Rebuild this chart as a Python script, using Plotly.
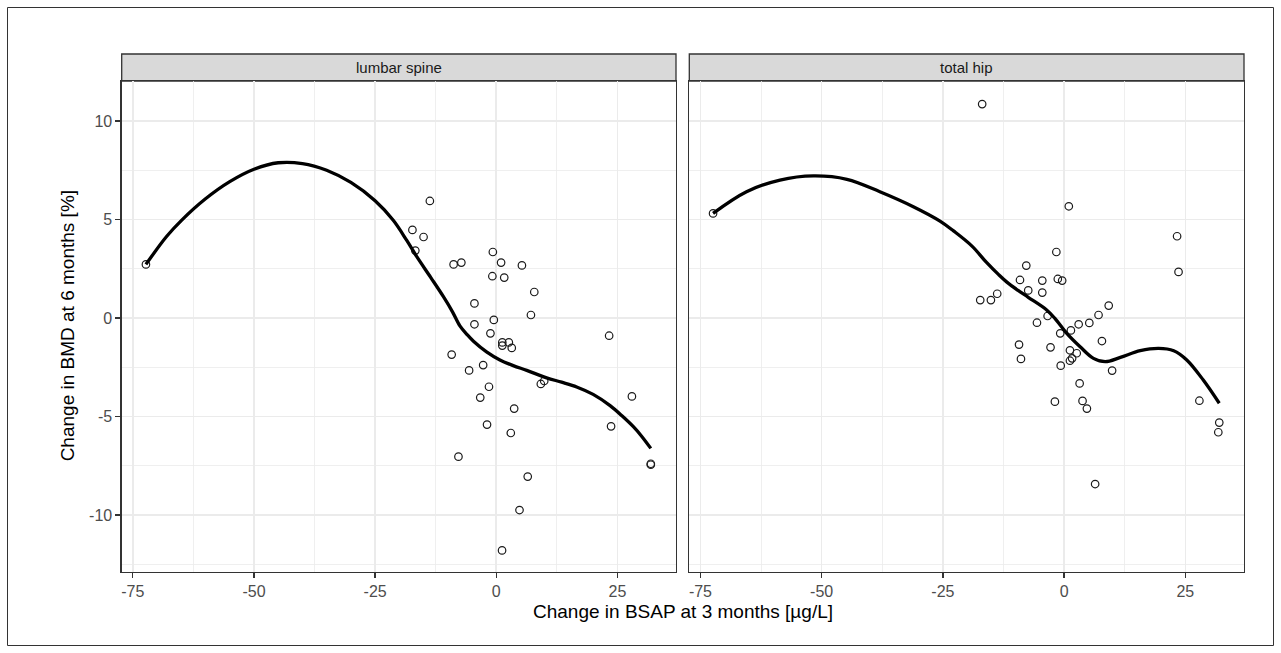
import plotly.graph_objects as go

# ---------------- data ----------------
panels = ["lumbar spine", "total hip"]

lumbar_x = [-72.3, -17.3, -16.7, -15.0, -13.7, -9.2, -8.8, -7.8, -7.2, -5.6,
            -4.5, -4.5, -3.3, -2.7, -1.9, -1.5, -1.2, -0.8, -0.7, -0.5,
            1.0, 1.2, 1.25, 1.25, 1.65, 2.6, 3.0, 3.2, 3.7, 4.8,
            5.3, 6.5, 7.16, 7.85, 9.2, 9.9, 23.3, 23.7, 28.0, 31.9, 31.9]
lumbar_y = [2.72, 4.47, 3.42, 4.11, 5.94, -1.86, 2.72, -7.04, 2.81, -2.66,
            0.74, -0.32, -4.04, -2.39, -5.41, -3.49, -0.78, 2.12, 3.35, -0.10,
            2.81, -11.8, -1.24, -1.40, 2.05, -1.24, -5.84, -1.52, -4.60, -9.75,
            2.67, -8.05, 0.15, 1.32, -3.35, -3.20, -0.90, -5.50, -3.98, -7.40, -7.45]

hip_x = [-72.4, -17.3, -16.9, -15.1, -13.8, -9.3, -9.1, -8.9, -7.8, -7.4,
         -5.6, -4.5, -4.5, -3.4, -2.8, -1.9, -1.6, -1.3, -0.8, -0.7,
         -0.4, 0.97, 1.2, 1.2, 1.4, 1.65, 2.6, 3.0, 3.2, 3.8,
         4.7, 5.2, 6.4, 7.1, 7.8, 9.2, 9.9, 23.3, 23.6, 27.9, 31.8, 32.0]
hip_y = [5.31, 0.91, 10.86, 0.91, 1.23, -1.35, 1.93, -2.08, 2.66, 1.40,
         -0.24, 1.90, 1.29, 0.10, -1.49, -4.25, 3.35, 1.98, -0.78, -2.42,
         1.90, 5.67, -1.64, -2.17, -0.63, -2.05, -1.79, -0.32, -3.32, -4.21,
         -4.60, -0.25, -8.43, 0.15, -1.17, 0.63, -2.67, 4.15, 2.34, -4.20, -5.80, -5.31]

lumbar_smooth_x = [-72.3, -68.0, -64.9, -60.0, -55.0, -50.0, -45.0, -40.0, -35.0, -30.0,
                   -25.0, -21.3, -18.5, -16.4, -13.5, -10.9, -9.0, -7.5, -6.0, -4.7,
                   -2.0, 0.76, 3.5, 6.3, 10.4, 13.5, 16.6, 20.0, 23.5, 26.0,
                   28.3, 30.0, 31.9]
lumbar_smooth_y = [2.72, 4.15, 4.97, 6.05, 6.92, 7.55, 7.88, 7.84, 7.5, 6.88,
                   5.95, 4.97, 3.95, 3.11, 2.05, 1.08, 0.3, -0.4, -0.85, -1.18,
                   -1.72, -2.13, -2.42, -2.66, -3.04, -3.26, -3.5, -3.88, -4.45, -4.98,
                   -5.52, -6.0, -6.62]

hip_smooth_x = [-72.4, -65.5, -58.6, -51.7, -44.8, -38.0, -31.1, -25.6, -22.8, -19.0,
                -16.0, -13.5, -11.8, -9.5, -7.4, -3.6, -1.9, 0.55, 3.3, 6.05,
                8.5, 11.6, 15.7, 19.5, 22.6, 25.3, 28.7, 32.0]
hip_smooth_y = [5.31, 6.41, 7.0, 7.21, 7.04, 6.41, 5.65, 4.92, 4.42, 3.65,
                2.82, 2.2, 1.82, 1.4, 1.05, 0.41, -0.02, -0.78, -1.46, -2.05,
                -2.22, -2.0, -1.66, -1.54, -1.66, -2.13, -3.15, -4.33]

x_ticks = [-75, -50, -25, 0, 25]
y_ticks = [-10, -5, 0, 5, 10]

x_title = "Change in BSAP at 3 months [µg/L]"
y_title = "Change in BMD at 6 months [%]"

# ---------------- layout geometry (pixels) ----------------
W, H = 1281, 653
def px(v):
    return v / W
def py(v):
    return 1 - v / H

panel_left = [(121.7, 676.0), (689.3, 1244.0)]
panel_top, panel_bottom = 81.0, 571.7
strip_top = 54.0

FONT = "Liberation Sans, Arial, Helvetica, sans-serif"
GRID = "#ebebeb"
BORDER = "#333333"

fig = go.Figure()

series = [(lumbar_x, lumbar_y, lumbar_smooth_x, lumbar_smooth_y),
          (hip_x, hip_y, hip_smooth_x, hip_smooth_y)]

for i, (sx, sy, lx, ly) in enumerate(series):
    xa = "x" if i == 0 else "x2"
    ya = "y" if i == 0 else "y2"
    fig.add_trace(go.Scatter(x=sx, y=sy, mode="markers", xaxis=xa, yaxis=ya,
                             marker=dict(symbol="circle-open", size=7.5,
                                         color="#1a1a1a", line=dict(width=1.2, color="#1a1a1a")),
                             showlegend=False, hoverinfo="skip"))
    fig.add_trace(go.Scatter(x=lx, y=ly, mode="lines", xaxis=xa, yaxis=ya,
                             line=dict(color="black", width=3.3, shape="spline", smoothing=1.0),
                             showlegend=False, hoverinfo="skip"))

x_range = [-77.3, 37.1]
y_range = [-12.88, 12.03]

common_x = dict(range=x_range, tickmode="array", tickvals=x_ticks,
                ticktext=[str(t) for t in x_ticks],
                showgrid=True, gridcolor=GRID, gridwidth=1.6,
                minor=dict(tickvals=[-62.5, -37.5, -12.5, 12.5, 37.5], showgrid=True,
                           gridcolor=GRID, gridwidth=0.8, ticks=""),
                zeroline=False, showline=True, mirror=True, linecolor=BORDER, linewidth=1.3,
                ticks="outside", ticklen=5, tickwidth=1.3, tickcolor=BORDER,
                tickfont=dict(family=FONT, size=16, color="#4d4d4d"),
                automargin=False, fixedrange=True)
common_y = dict(range=y_range, tickmode="array", tickvals=y_ticks,
                ticktext=[str(t) for t in y_ticks],
                showgrid=True, gridcolor=GRID, gridwidth=1.6,
                minor=dict(tickvals=[-12.5, -7.5, -2.5, 2.5, 7.5], showgrid=True,
                           gridcolor=GRID, gridwidth=0.8, ticks=""),
                zeroline=False, showline=True, mirror=True, linecolor=BORDER, linewidth=1.3,
                tickfont=dict(family=FONT, size=16, color="#4d4d4d"),
                automargin=False, fixedrange=True,
                domain=[py(panel_bottom), py(panel_top)])

fig.update_layout(
    width=W, height=H,
    margin=dict(l=0, r=0, t=0, b=0),
    paper_bgcolor="white", plot_bgcolor="white",
    xaxis=dict(common_x, domain=[px(panel_left[0][0]), px(panel_left[0][1])], anchor="y"),
    xaxis2=dict(common_x, domain=[px(panel_left[1][0]), px(panel_left[1][1])], anchor="y2"),
    yaxis=dict(common_y, anchor="x", ticks="outside", ticklen=5, tickwidth=1.3,
               tickcolor=BORDER, showticklabels=True),
    yaxis2=dict(common_y, anchor="x2", ticks="", showticklabels=False),
)

shapes = []
annotations = []
for i, name in enumerate(panels):
    x0, x1 = panel_left[i]
    shapes.append(dict(type="rect", xref="paper", yref="paper",
                       x0=px(x0), x1=px(x1), y0=py(panel_top), y1=py(strip_top),
                       fillcolor="#d9d9d9", line=dict(color=BORDER, width=1.3), layer="below"))
    annotations.append(dict(text=name, xref="paper", yref="paper",
                            x=px((x0 + x1) / 2), y=py((strip_top + panel_top) / 2),
                            showarrow=False, xanchor="center", yanchor="middle",
                            font=dict(family=FONT, size=15, color="#1a1a1a")))

# outer frame around the figure
shapes.append(dict(type="rect", xref="paper", yref="paper",
                   x0=px(7.5), x1=px(1273.5), y0=py(645.5), y1=py(7.5),
                   line=dict(color="#333333", width=1), fillcolor="rgba(0,0,0,0)"))

annotations.append(dict(text=x_title, xref="paper", yref="paper",
                        x=px((panel_left[0][0] + panel_left[1][1]) / 2), y=py(611),
                        showarrow=False, xanchor="center", yanchor="middle",
                        font=dict(family=FONT, size=19, color="black")))
annotations.append(dict(text=y_title, xref="paper", yref="paper",
                        x=px(67), y=py((panel_top + panel_bottom) / 2),
                        showarrow=False, xanchor="center", yanchor="middle", textangle=-90,
                        font=dict(family=FONT, size=19, color="black")))

fig.update_layout(shapes=shapes, annotations=annotations)

fig.write_html("out.html",
               config={"displayModeBar": False, "staticPlot": True},
               post_script="document.body.style.margin='0';"
                           "document.documentElement.style.overflow='hidden';"
                           "document.body.style.overflow='hidden';")
